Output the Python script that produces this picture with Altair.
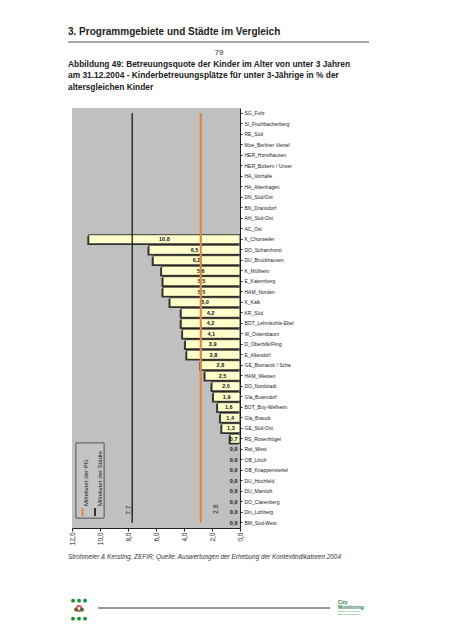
import altair as alt
import pandas as pd

FONT = "Liberation Sans"

categories = [
    "SG_Fuhr", "SI_Fischbacherberg", "RE_Süd", "Moe_Berliner Viertel", "HER_Horsthausen",
    "HER_Bickern / Unser", "HA_Vorhalle", "HA_Altenhagen", "DN_Süd/Ost", "BN_Dransdorf",
    "Ahl_Süd-Ost", "AC_Ost", "K_Chorweiler", "DO_Scharnhorst", "DU_Bruckhausen", "K_Mülheim",
    "E_Katernberg", "HAM_Norden", "K_Kalk", "KR_Süd", "BOT_Lehmkuhle-Ebel", "W_Ostersbaum",
    "D_Oberbilk/Fling", "E_Altendorf", "GE_Bismarck / Scha", "HAM_Westen", "DO_Nordstadt",
    "Gla_Butendorf", "BOT_Boy-Welheim", "Gla_Brauck", "GE_Süd-Ost", "RS_Rosenhügel",
    "Rat_West", "OB_Lirich", "OB_Knappenviertel", "DU_Hochfeld", "DU_Marxloh",
    "DO_Clarenberg", "Din_Lohberg", "BM_Süd-West",
]
values = [None] * 12 + [
    10.8, 6.5, 6.2, 5.6, 5.5, 5.5, 5.0, 4.2, 4.2, 4.1, 3.9, 3.8, 2.8, 2.5, 2.0, 1.9,
    1.6, 1.4, 1.3, 0.7, 0.0, 0.0, 0.0, 0.0, 0.0, 0.0, 0.0, 0.0,
]
mean_names = ["Mittelwert der PG", "Mittelwert der Städte"]
mean_values = [2.8, 7.7]
mean_colors = ["#E5843F", "#161616"]
x_ticks = [0, 2, 4, 6, 8, 10, 12]

heading = "3. Programmgebiete und Städte im Vergleich"
page_number = "79"
caption = [
    "Abbildung 49: Betreuungsquote der Kinder im Alter von unter 3 Jahren",
    "am 31.12.2004 - Kinderbetreuungsplätze für unter 3-Jährige in % der",
    "altersgleichen Kinder",
]
source = "Strohmeier & Kersting, ZEFIR; Quelle: Auswertungen der Erhebung der Kontextindikatoren 2004"

df = pd.DataFrame({"cat": categories, "v": values})
means = pd.DataFrame({"name": mean_names, "m": mean_values})

W, H = 168, 420

x_scale = alt.Scale(domain=[0, 12], reverse=True, nice=False, zero=True)
x_axis = alt.Axis(
    values=x_ticks, title=None, grid=False, labelOverlap=False, labelBound=False, labelFlush=False,
    labelExpr="replace(format(datum.value, '.1f'), '.', ',')",
    labelAngle=270, labelAlign="right", labelBaseline="middle",
    labelFont=FONT, labelFontSize=6.5, labelColor="#222",
    tickSize=3, tickColor="#222", domainColor="#222", labelPadding=1,
)
y_scale = alt.Scale(domain=categories, paddingInner=0.13, paddingOuter=0.07)
y_axis = alt.Axis(
    orient="right", title=None, labelFont=FONT, labelFontSize=5, labelColor="#222",
    labelLimit=0, labelOverlap=False, tickSize=2, tickColor="#222", domainColor="#222", labelPadding=2,
)
y_enc = alt.Y("cat:N", sort=categories, scale=y_scale, axis=y_axis)

base = alt.Chart(df)

shadow = base.transform_filter("datum.v > 0").mark_bar(
    color="#3a3a3a", xOffset=-1.5, x2Offset=-1.5, yOffset=1.2, y2Offset=1.2
).encode(x=alt.X("v:Q", scale=x_scale, axis=x_axis), x2=alt.datum(0), y=y_enc)

bars = base.transform_filter("datum.v > 0").mark_bar(
    fill="#FFFFCC", stroke="#111", strokeWidth=0.8
).encode(x=alt.X("v:Q", scale=x_scale, axis=x_axis), x2=alt.datum(0), y=y_enc)

val_labels = base.transform_filter("isValid(datum.v)").transform_calculate(
    pos="max(datum.v / 2, 0.45)",
    lab="replace(format(datum.v, '.1f'), '.', ',')",
).mark_text(
    font=FONT, fontSize=5.5, fontWeight="bold", color="#111", align="center", baseline="middle"
).encode(x=alt.X("pos:Q", scale=x_scale, axis=x_axis), y=y_enc, text="lab:N")

color_scale = alt.Scale(domain=mean_names, range=mean_colors)

rules = alt.Chart(means).mark_rule().encode(
    x=alt.X("m:Q", scale=x_scale, axis=x_axis),
    y=alt.datum(categories[0]),
    y2=alt.datum(categories[-1]),
    color=alt.Color("name:N", scale=color_scale, legend=None),
    strokeWidth=alt.StrokeWidth("name:N", scale=alt.Scale(domain=mean_names, range=[2.2, 1.3]), legend=None),
)

# rotated text: dx points up on screen, dy points right on screen
mean_lab_pg = alt.Chart(means).transform_filter(f"datum.name == '{mean_names[0]}'").transform_calculate(
    lab="format(datum.m, '.1f')"
).mark_text(font=FONT, fontSize=6.5, color="#222", angle=270, align="center", baseline="middle", dx=3, dy=15).encode(
    x=alt.X("m:Q", scale=x_scale, axis=x_axis), y=alt.datum(categories[-2]), text="lab:N"
)
mean_lab_st = alt.Chart(means).transform_filter(f"datum.name == '{mean_names[1]}'").transform_calculate(
    lab="format(datum.m, '.1f')"
).mark_text(font=FONT, fontSize=6.5, color="#222", angle=270, align="center", baseline="middle", dx=2, dy=-3.5).encode(
    x=alt.X("m:Q", scale=x_scale, axis=x_axis), y=alt.datum(categories[-2]), text="lab:N"
)

# legend (rotated, inside plot)
leg_box = alt.Chart(means).mark_rect(fill="#C4C4C4", stroke="#555", strokeWidth=0.8).encode(
    x=alt.value(4), x2=alt.value(32), y=alt.value(335), y2=alt.value(410)
)
leg_sym_pg = alt.Chart(means).mark_rule(color=mean_colors[0], strokeWidth=1.6).encode(
    x=alt.value(10.5), y=alt.value(400), y2=alt.value(408)
)
leg_sym_st = alt.Chart(means).mark_rule(color=mean_colors[1], strokeWidth=1.2).encode(
    x=alt.value(23), y=alt.value(400), y2=alt.value(408)
)
leg_txt_pg = alt.Chart(means).transform_filter(f"datum.name == '{mean_names[0]}'").mark_text(
    font=FONT, fontSize=6, color="#222", angle=270, align="left", baseline="middle"
).encode(x=alt.value(13.5), y=alt.value(398), text="name:N")
leg_txt_st = alt.Chart(means).transform_filter(f"datum.name == '{mean_names[1]}'").mark_text(
    font=FONT, fontSize=6, color="#222", angle=270, align="left", baseline="middle"
).encode(x=alt.value(28), y=alt.value(398), text="name:N")

# page furniture
one = pd.DataFrame({"k": [0]})
head = alt.Chart(one).mark_text(
    text=heading, font=FONT, fontSize=10, fontWeight="bold", color="#222", align="left", baseline="middle"
).encode(x=alt.value(-4), y=alt.value(-76))
head_rule = alt.Chart(one).mark_rule(color="#555", strokeWidth=1.2).encode(
    x=alt.value(-4), x2=alt.value(297), y=alt.value(-66)
)
page_no = alt.Chart(one).mark_text(
    text=page_number, font=FONT, fontSize=8, color="#333", align="center", baseline="middle"
).encode(x=alt.value(147), y=alt.value(-55.5))
cap = alt.Chart(one).mark_text(
    text=caption, font=FONT, fontSize=8.4, fontWeight="bold", color="#222", align="left",
    baseline="middle", lineHeight=11.7
).encode(x=alt.value(-4), y=alt.value(-44.5))
src = alt.Chart(one).mark_text(
    text=source, font=FONT, fontSize=6.4, fontStyle="italic", color="#333", align="left", baseline="middle"
).encode(x=alt.value(-4), y=alt.value(449))
foot_rule = alt.Chart(one).mark_rule(color="#333", strokeWidth=1).encode(
    x=alt.value(26), x2=alt.value(258), y=alt.value(500)
)
logo_dots = alt.Chart(one).mark_text(
    text=["●   ●   ●", "●         ●", "●   ●   ●"], font="DejaVu Sans", fontSize=5, color="#1E8C3A",
    align="center", baseline="middle", lineHeight=9
).encode(x=alt.value(7), y=alt.value(491.5))
logo_ring = alt.Chart(one).mark_point(shape="circle", size=24, stroke="#B8202A", strokeWidth=2, filled=False).encode(
    x=alt.value(7), y=alt.value(500.5)
)
cm_logo = alt.Chart(one).mark_text(
    text=["City", "Monitoring"], font=FONT, fontSize=5, fontWeight="bold", color="#2E7D4F",
    align="left", baseline="middle", lineHeight=5
).encode(x=alt.value(266), y=alt.value(494))
cm_small = alt.Chart(one).mark_text(
    text=["Stadtteile im Vergleich", "www.city-monitoring.de"], font=FONT, fontSize=2.2, color="#2E7D4F",
    align="left", baseline="middle", lineHeight=2.6
).encode(x=alt.value(266), y=alt.value(503))

chart = alt.layer(
    shadow, bars, val_labels, rules, mean_lab_pg, mean_lab_st,
    leg_box, leg_sym_pg, leg_sym_st, leg_txt_pg, leg_txt_st,
    head, head_rule, page_no, cap, src, foot_rule, logo_dots, logo_ring, cm_logo, cm_small,
).properties(
    width=W, height=H,
    autosize=alt.AutoSizeParams(type="none"),
    padding={"left": 64, "top": 100, "right": 205, "bottom": 98},
    background="white",
).configure_view(fill="#C0C0C0", stroke=None).configure_axis(labelOverlap=False)

chart.save("out.html", embed_options={"renderer": "svg", "actions": False})
